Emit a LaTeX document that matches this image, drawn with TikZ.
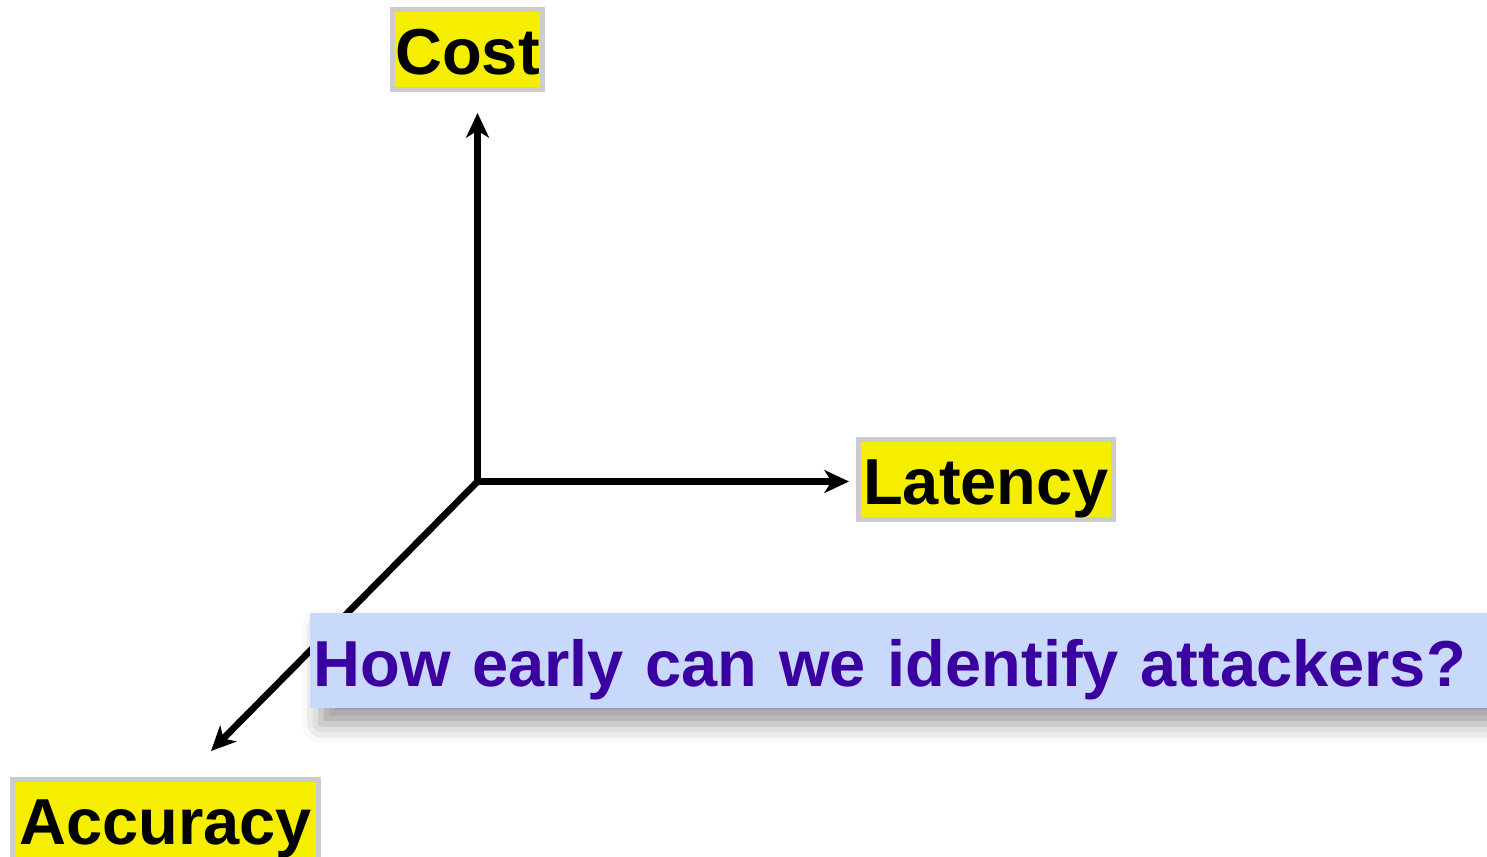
\documentclass[tikz,border=0pt]{standalone}
\usepackage{fontspec}
\setmainfont{Liberation Sans}
\usetikzlibrary{arrows.meta, shadows.blur}

\definecolor{labelyellow}{RGB}{245,238,0}
\definecolor{labelgray}{RGB}{204,204,204}
\definecolor{askblue}{RGB}{201,217,251}
\definecolor{askpurple}{RGB}{58,0,160}

\tikzset{
  axislabel/.style={draw=labelgray, fill=labelyellow, line width=2.85pt, inner sep=0pt,
    minimum height=1.6cm, text height=28.9pt, text depth=0pt,
    font=\fontsize{37}{40}\selectfont\bfseries},
  axis/.style={line width=3.8pt, ->},
  askbox/.style={fill=askblue, text=askpurple, inner xsep=0.06cm, inner ysep=0pt,
    minimum height=1.9cm, text width=24.5cm, align=left,
    text height=29.1pt, text depth=0pt,
    font=\fontsize{37}{40}\selectfont\bfseries,
    blur shadow={shadow xshift=6pt, shadow yshift=-9pt, shadow blur radius=11pt, shadow opacity=40}},
}

\begin{document}
\begin{tikzpicture}[>={Stealth[length=14pt, width=13pt, inset=4pt]}, x=0.02cm, y=-0.02cm]

\useasboundingbox (0, 0) rectangle (1487, 856);

% axes
\coordinate (origin) at (477.5, 481.5);
\coordinate (costtip) at (477.5, 113);
\coordinate (latencytip) at (849, 481.5);
\coordinate (accuracytip) at (211, 751);

\draw[axis] ([yshift=-1.9pt]origin) -- (costtip);
\draw[axis] ([xshift=-1.9pt]origin) -- (latencytip);
\draw[axis] (origin) -- (accuracytip);

% labels
\node[axislabel, minimum width=3cm] (cost) at (467.5, 49.5) {Cost};
\node[axislabel, minimum width=5.1cm] (latency) at (986, 479.5) {Latency};
\node[axislabel, minimum width=6.12cm] (accuracy) at (165.5, 819.5) {Accuracy};

% question
\node[askbox, anchor=west] (question) at (310, 660.5) {How early can we identify attackers?};

\end{tikzpicture}
\end{document}
